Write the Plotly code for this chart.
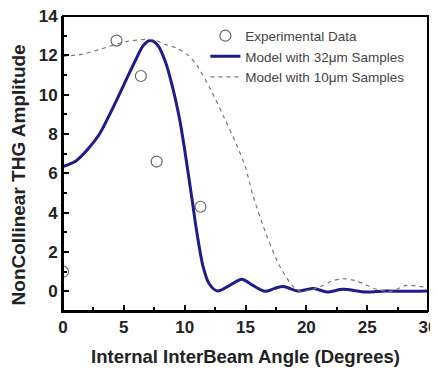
import plotly.graph_objects as go

# Experimental data
exp_x = [0.0, 4.4, 6.4, 7.7, 11.3]
exp_y = [1.0, 12.75, 10.95, 6.6, 4.3]

# Model with 32um samples
m32_x = [0, 1.0, 2.0, 3.0, 4.0, 5.0, 6.0, 6.6, 7.2, 7.8, 8.4, 9.0, 9.6, 10.0, 10.6,
         11.0, 11.5, 12.0, 12.7, 13.7, 14.7, 15.6, 16.6, 17.4, 18.1, 19.3, 20.6,
         21.7, 23.0, 24.9, 26.5, 28.0, 30.0]
m32_y = [6.35, 6.6, 7.2, 8.0, 9.2, 10.5, 11.8, 12.5, 12.75, 12.5, 11.7, 10.4, 8.7, 7.2, 4.7,
         3.0, 1.3, 0.4, 0.02, 0.3, 0.62, 0.3, 0.0, 0.15, 0.25, 0.02, 0.14,
         -0.03, 0.1, -0.03, 0.02, 0.0, 0.02]

# Model with 10um samples
m10_x = [0, 1.5, 3.0, 5.2, 7.4, 8.2, 9.4, 10.3, 11.0, 12.1, 13.2, 14.3, 15.0, 15.6,
         16.7, 17.8, 18.9, 19.5, 20.2, 21.1, 22.0, 23.0, 24.0, 24.7, 25.8, 27.0,
         28.2, 29.3, 30.0]
m10_y = [11.95, 12.05, 12.3, 12.7, 12.8, 12.6, 12.35, 12.0, 11.5, 10.3, 8.9, 7.4, 6.3, 4.9,
         2.9, 1.3, 0.25, 0.0, 0.05, 0.22, 0.5, 0.65, 0.55, 0.39, 0.09, 0.0,
         0.3, 0.25, 0.2]

x_ticks = [0, 5, 10, 15, 20, 25, 30]
y_ticks = [0, 2, 4, 6, 8, 10, 12, 14]
x_range = [0, 30]
y_range = [-1, 14]

FONT = "Arial, Liberation Sans, sans-serif"

fig = go.Figure()
fig.add_trace(go.Scatter(
    x=exp_x, y=exp_y, mode="markers", name="Experimental Data",
    marker=dict(symbol="circle-open", size=11, color="#666666", line=dict(width=1.2)),
    cliponaxis=True))
fig.add_trace(go.Scatter(
    x=m32_x, y=m32_y, mode="lines", name="Model with 32\u03bcm Samples",
    line=dict(color="#1c1c8a", width=3, shape="spline", smoothing=0.8)))
fig.add_trace(go.Scatter(
    x=m10_x, y=m10_y, mode="lines", name="Model with 10\u03bcm Samples",
    line=dict(color="#777777", width=1.2, dash="4px,4px", shape="spline", smoothing=0.8)))

tick_style = dict(ticks="inside", ticklen=6, tickwidth=2, tickcolor="black",
                  showgrid=False, zeroline=False, automargin=False)
tickfont = dict(family=FONT, size=17, color="#222222", weight="bold")

fig.update_layout(
    xaxis=dict(range=x_range, tickvals=x_ticks, showline=True, linecolor="black",
               linewidth=2, ticklabeloverflow="allow", tickfont=tickfont,
               minor=dict(dtick=2.5, ticks="inside", ticklen=4, tickwidth=1.5,
                          tickcolor="black"),
               title=dict(text="<b>Internal InterBeam Angle (Degrees)</b>",
                          font=dict(family=FONT, size=18.5, color="#222222"),
                          standoff=14),
               **tick_style),
    yaxis=dict(range=y_range, tickvals=y_ticks, showline=True, linecolor="black",
               linewidth=2, ticklabeloverflow="allow", tickfont=tickfont,
               minor=dict(dtick=1, ticks="inside", ticklen=4, tickwidth=1.5,
                          tickcolor="black"),
               **tick_style),
    xaxis2=dict(range=x_range, tickvals=x_ticks, overlaying="x", side="top",
                anchor="y", showticklabels=False, showline=False,
                minor=dict(dtick=2.5, ticks="inside", ticklen=4, tickwidth=1.5,
                           tickcolor="black"),
                **tick_style),
    yaxis2=dict(range=y_range, tickvals=y_ticks, overlaying="y", side="right",
                anchor="x", showticklabels=False, showline=False,
                minor=dict(dtick=1, ticks="inside", ticklen=4, tickwidth=1.5,
                           tickcolor="black"),
                **tick_style),
)

# plot frame
fig.add_shape(type="rect", xref="paper", yref="paper", x0=0, x1=1, y0=0, y1=1,
              line=dict(color="black", width=2), layer="above")

# y-axis title (placed slightly below centre as in the reference)
fig.add_annotation(text="<b>NonCollinear THG Amplitude</b>", textangle=-90,
                   xref="paper", yref="paper", x=-0.123, y=0.46,
                   xanchor="center", yanchor="middle", showarrow=False,
                   font=dict(family=FONT, size=19, color="#222222"))

# page body has an 8px margin; figure margins compensate for that offset
fig.update_layout(
    width=438, height=370,
    margin=dict(l=55, r=18, t=8, b=67),
    plot_bgcolor="white", paper_bgcolor="white",
    font=dict(family=FONT, color="#222222"),
    legend=dict(x=0.39, y=0.985, xanchor="left", yanchor="top",
                bgcolor="rgba(0,0,0,0)", borderwidth=0,
                font=dict(family=FONT, size=13.5, color="#444444"),
                tracegroupgap=0, itemwidth=30),
    showlegend=True,
)

fig.write_html("out.html")
